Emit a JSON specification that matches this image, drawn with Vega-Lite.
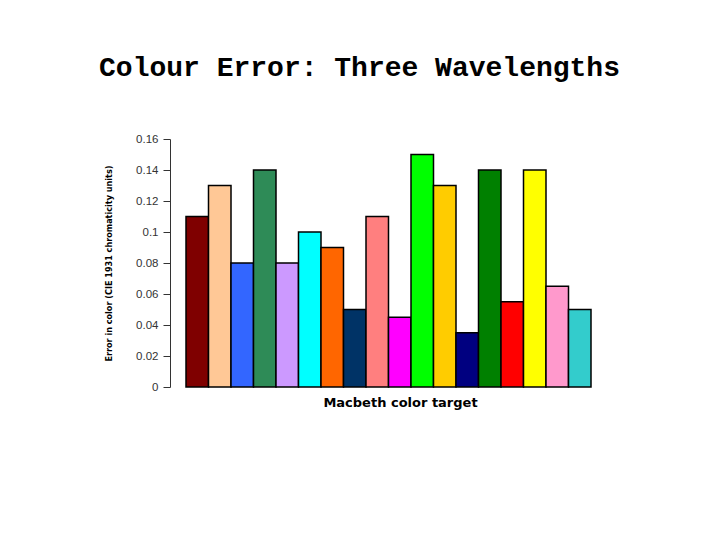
{
  "$schema": "https://vega.github.io/schema/vega-lite/v6.json",
  "autosize": "none",
  "width": 405,
  "height": 248,
  "padding": {"left": 186, "top": 139, "right": 129, "bottom": 153},
  "background": "white",
  "title": {
    "text": "Colour Error:  Three Wavelengths",
    "font": "Liberation Mono",
    "fontSize": 28,
    "fontWeight": "bold",
    "color": "black",
    "anchor": "middle",
    "dx": -29,
    "offset": 51
  },
  "config": {"view": {"stroke": null}},
  "data": {
    "values": [
      {"patch": 1, "error": 0.11, "colour": "#7f0000"},
      {"patch": 2, "error": 0.13, "colour": "#ffc896"},
      {"patch": 3, "error": 0.08, "colour": "#3366ff"},
      {"patch": 4, "error": 0.14, "colour": "#2e8b57"},
      {"patch": 5, "error": 0.08, "colour": "#cc99ff"},
      {"patch": 6, "error": 0.10, "colour": "#00ffff"},
      {"patch": 7, "error": 0.09, "colour": "#ff6600"},
      {"patch": 8, "error": 0.05, "colour": "#003366"},
      {"patch": 9, "error": 0.11, "colour": "#ff7f7f"},
      {"patch": 10, "error": 0.045, "colour": "#ff00ff"},
      {"patch": 11, "error": 0.15, "colour": "#00ff00"},
      {"patch": 12, "error": 0.13, "colour": "#ffcc00"},
      {"patch": 13, "error": 0.035, "colour": "#000080"},
      {"patch": 14, "error": 0.14, "colour": "#008000"},
      {"patch": 15, "error": 0.055, "colour": "#ff0000"},
      {"patch": 16, "error": 0.14, "colour": "#ffff00"},
      {"patch": 17, "error": 0.065, "colour": "#ff99cc"},
      {"patch": 18, "error": 0.05, "colour": "#33cccc"}
    ]
  },
  "mark": {"type": "bar", "stroke": "black", "strokeWidth": 1.5},
  "encoding": {
    "x": {
      "field": "patch",
      "type": "ordinal",
      "scale": {"paddingInner": 0, "paddingOuter": 0},
      "axis": {
        "title": "Macbeth color target",
        "titleFont": "DejaVu Sans",
        "titleFontSize": 13,
        "titleFontWeight": "bold",
        "titleColor": "black",
        "titlePadding": 9,
        "titleX": 214,
        "labels": false,
        "ticks": false,
        "domain": false
      }
    },
    "y": {
      "field": "error",
      "type": "quantitative",
      "scale": {"domain": [0, 0.16], "nice": false},
      "axis": {
        "title": "Error in color (CIE 1931 chromaticity units)",
        "titleFont": "DejaVu Sans Condensed",
        "titleFontSize": 9,
        "titleFontWeight": "bold",
        "titleColor": "black",
        "titlePadding": 22,
        "values": [0, 0.02, 0.04, 0.06, 0.08, 0.1, 0.12, 0.14, 0.16],
        "labelExpr": "datum.value == 0 ? '0' : format(datum.value, '.2~f')",
        "labelFont": "Liberation Sans",
        "labelFontSize": 11.5,
        "labelColor": "#333333",
        "labelPadding": 5,
        "grid": false,
        "offset": 16,
        "tickSize": 7,
        "tickColor": "#333333",
        "domainColor": "#333333"
      }
    },
    "color": {"field": "colour", "type": "nominal", "scale": null}
  }
}
